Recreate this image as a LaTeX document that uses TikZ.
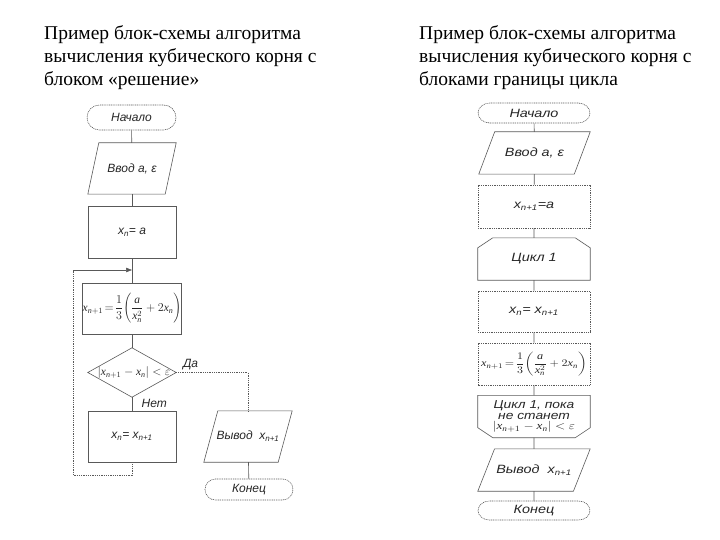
\documentclass[tikz,border=0pt]{standalone}
\usepackage{fontspec}
\setmainfont{Liberation Serif}
\newfontfamily\arialf{Liberation Sans}
\usetikzlibrary{arrows.meta,shapes.misc}
\newcommand\paraframe[2]{\draw[lin] ([xshift=#2]#1.north west) -- (#1.north east) -- ([xshift=-#2]#1.south east) -- (#1.south west) -- cycle;}
\newcommand\topcut[3]{\draw[lin] ([yshift=-#3]#1.north west) -- ([xshift=#2]#1.north west) -- ([xshift=-#2]#1.north east) -- ([yshift=-#3]#1.north east) -- (#1.south east) -- (#1.south west) -- cycle;}
\newcommand\botcut[3]{\draw[lin] (#1.north west) -- (#1.north east) -- ([yshift=#3]#1.south east) -- ([xshift=-#2]#1.south east) -- ([xshift=#2]#1.south west) -- ([yshift=#3]#1.south west) -- cycle;}
\newcommand\mx{\mathit{x}}
\newcommand\mn{\mathit{n}}
\newcommand\formula{$\displaystyle \mx_{\mn+1}\!=\!\frac{1}{3}\!\left(\frac{\mathit{a}}{\mx_{\mn}^{2}}+2\mx_{\mn}\right)$}
\newcommand\absdiff{$\left|\mx_{\mn+1}-\mx_{\mn}\right|<\varepsilon$}
\begin{document}
\begin{tikzpicture}[x=1pt,y=-1pt,
  lin/.style={draw=black!65, line width=0.6pt},
  dot/.style={lin, dash pattern=on 1pt off 0.8pt},
  lbl/.style={font=\arialf\itshape\fontsize{12}{13}\selectfont, text=black!85},
  box/.style={lbl, rectangle, inner sep=0pt, align=center},
  term/.style={box, rounded rectangle, dot},
  ttl/.style={anchor=north west, align=left, font=\fontsize{19.5}{23}\selectfont, inner sep=0pt},
  arr/.style={lin, -{Triangle[length=6pt,width=4.5pt]}}]
\useasboundingbox (0,0) rectangle (720,540);
\node[ttl] (t1) at (44,25) {Пример блок-схемы алгоритма\\вычисления кубического корня с\\блоком «решение»};
\node[ttl] (t2) at (419,25) {Пример блок-схемы алгоритма\\вычисления кубического корня с\\блоками границы цикла};

% ---------- left chart ----------
\node[term, minimum width=89pt, minimum height=25pt] (s1) at (131.5,117.5) {Начало};
\node[box, minimum width=88pt, minimum height=51pt] (i1) at (132,168.5) {Ввод a, ε};
\paraframe{i1}{11pt}
\node[box, lin, minimum width=88pt, minimum height=52pt] (a1) at (132,232) {x\textsubscript{n}= a};
\node[box, lin, minimum width=88pt, minimum height=51pt] (f1) at (132,308.5)
  {\fontsize{11.5}{13}\selectfont\formula};
\node[box, minimum width=88pt, minimum height=49pt] (d1) at (132,372.5)
  {\fontsize{11.5}{13}\selectfont\hspace*{4pt}\absdiff};
\draw[lin] (d1.north) -- (d1.east) -- (d1.south) -- (d1.west) -- cycle;
\node[box, lin, minimum width=88pt, minimum height=51pt] (u1) at (132,436.5) {x\textsubscript{n}= x\textsubscript{n+1}};
\node[box, minimum width=88pt, minimum height=51pt] (o1) at (248,436.5) {Вывод\ \ x\textsubscript{n+1}};
\paraframe{o1}{14pt}
\node[term, minimum width=88pt, minimum height=21pt] (e1) at (249,489.5) {Конец};

\coordinate (j1) at (132,270);
\coordinate (lc) at (73,475);
\coordinate (lt) at (73,270);
\draw[lin] (s1) -- (i1);
\draw[lin] (i1) -- (a1);
\draw[lin] (a1) -- (f1);
\draw[lin] (f1) -- (d1);
\draw[lin] (d1.south) -- (u1.north) node[lbl, pos=0.45, right=6pt] {Нет};
\draw[dot] (d1.east) -| (o1.north) node[lbl, pos=0.1, above=-1pt] {Да};
\draw[lin] (o1) -- (e1);
\draw[dot] (u1.south) |- (lc);
\draw[dot] (lc) -- (lt);
\draw[arr] (lt) -- (j1);

% ---------- right chart (horizontally stretched) ----------
\begin{scope}[shift={(534,0)}, xscale=1.2, transform shape]
\node[term, minimum width=93.3pt, minimum height=20pt] (s2) at (0,113) {Начало};
\node[box, minimum width=92.5pt, minimum height=42pt] (i2) at (0.4,153) {Ввод a, ε};
\paraframe{i2}{13.3pt}
\node[box, dot, minimum width=93.3pt, minimum height=43pt] (a2) at (0,206.5) {x\textsubscript{n+1}=a};
\node[box, minimum width=93.3pt, minimum height=42pt] (c2) at (0,259) {Цикл 1};
\topcut{c2}{12.5pt}{10pt}
\node[box, dot, minimum width=93.3pt, minimum height=41pt] (u2) at (0,311.5) {x\textsubscript{n}= x\textsubscript{n+1}};
\node[box, dot, minimum width=93.3pt, minimum height=42pt] (f2) at (0,364)
  {\fontsize{10.2}{12}\selectfont\formula};
\node[box, minimum width=93.3pt, minimum height=42pt, font=\arialf\itshape\fontsize{11.5}{10.8}\selectfont] (l2) at (0,416.5)
  {Цикл 1, пока\\не станет\\{\fontsize{11}{12}\selectfont\absdiff}};
\botcut{l2}{12.5pt}{10pt}
\node[box, minimum width=93.3pt, minimum height=42pt] (o2) at (0,470) {Вывод\ \ x\textsubscript{n+1}};
\paraframe{o2}{14pt}
\node[term, minimum width=93.3pt, minimum height=19pt] (e2) at (0,510.5) {Конец};
\end{scope}

\draw[lin] (s2) -- (i2);
\draw[lin] (i2) -- (a2);
\draw[lin] (a2) -- (c2);
\draw[lin] (c2) -- (u2);
\draw[lin] (u2) -- (f2);
\draw[lin] (f2) -- (l2);
\draw[lin] (l2) -- (o2);
\draw[lin] (o2) -- (e2);
\end{tikzpicture}
\end{document}
